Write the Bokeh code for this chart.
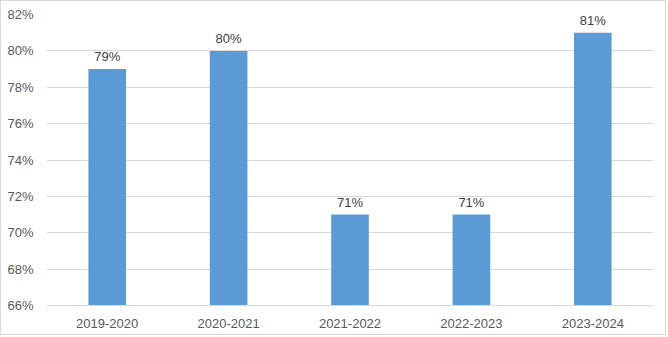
from bokeh.plotting import figure
from bokeh.models import ColumnDataSource, FixedTicker, CustomJSTickFormatter
from bokeh.core.properties import value
from bokeh.embed import file_html
from bokeh.resources import INLINE

years = ["2019-2020", "2020-2021", "2021-2022", "2022-2023", "2023-2024"]
rates = [79, 80, 71, 71, 81]
labels = ["79%", "80%", "71%", "71%", "81%"]
y_ticks = [66, 68, 70, 72, 74, 76, 78, 80, 82]

src = ColumnDataSource(dict(x=years, top=rates, lab=labels))

p = figure(x_range=years, y_range=(66, 82), width=666, height=335,
           output_backend="svg", toolbar_location=None,
           min_border_left=45, min_border_right=14, min_border_top=13, min_border_bottom=31)
p.outline_line_color = None
p.border_fill_color = "white"
p.background_fill_color = "white"

p.vbar(x="x", top="top", bottom=66, width=0.31, source=src, color="#5B9BD5", line_color=None)
p.text(x="x", y="top", text="lab", source=src, text_align="center", text_baseline="bottom",
       y_offset=-5, text_font=value("Liberation Sans"), text_font_size="13px", text_color="#404040")

p.yaxis.ticker = FixedTicker(ticks=y_ticks)
p.yaxis.formatter = CustomJSTickFormatter(code="return tick + '%';")
for ax in (p.xaxis, p.yaxis):
    ax.major_label_text_font = "Liberation Sans"
    ax.major_label_text_font_size = "13px"
    ax.major_label_text_color = "#595959"
    ax.major_tick_line_color = None
    ax.minor_tick_line_color = None
p.yaxis.axis_line_color = None
p.xaxis.axis_line_color = "#d9d9d9"
p.yaxis.major_label_standoff = 7
p.xaxis.major_label_standoff = 7
p.xgrid.grid_line_color = None
p.ygrid.grid_line_color = "#d9d9d9"

p.styles = {"border": "1px solid #d9d9d9"}

open("out.html", "w").write(file_html(p, INLINE))
